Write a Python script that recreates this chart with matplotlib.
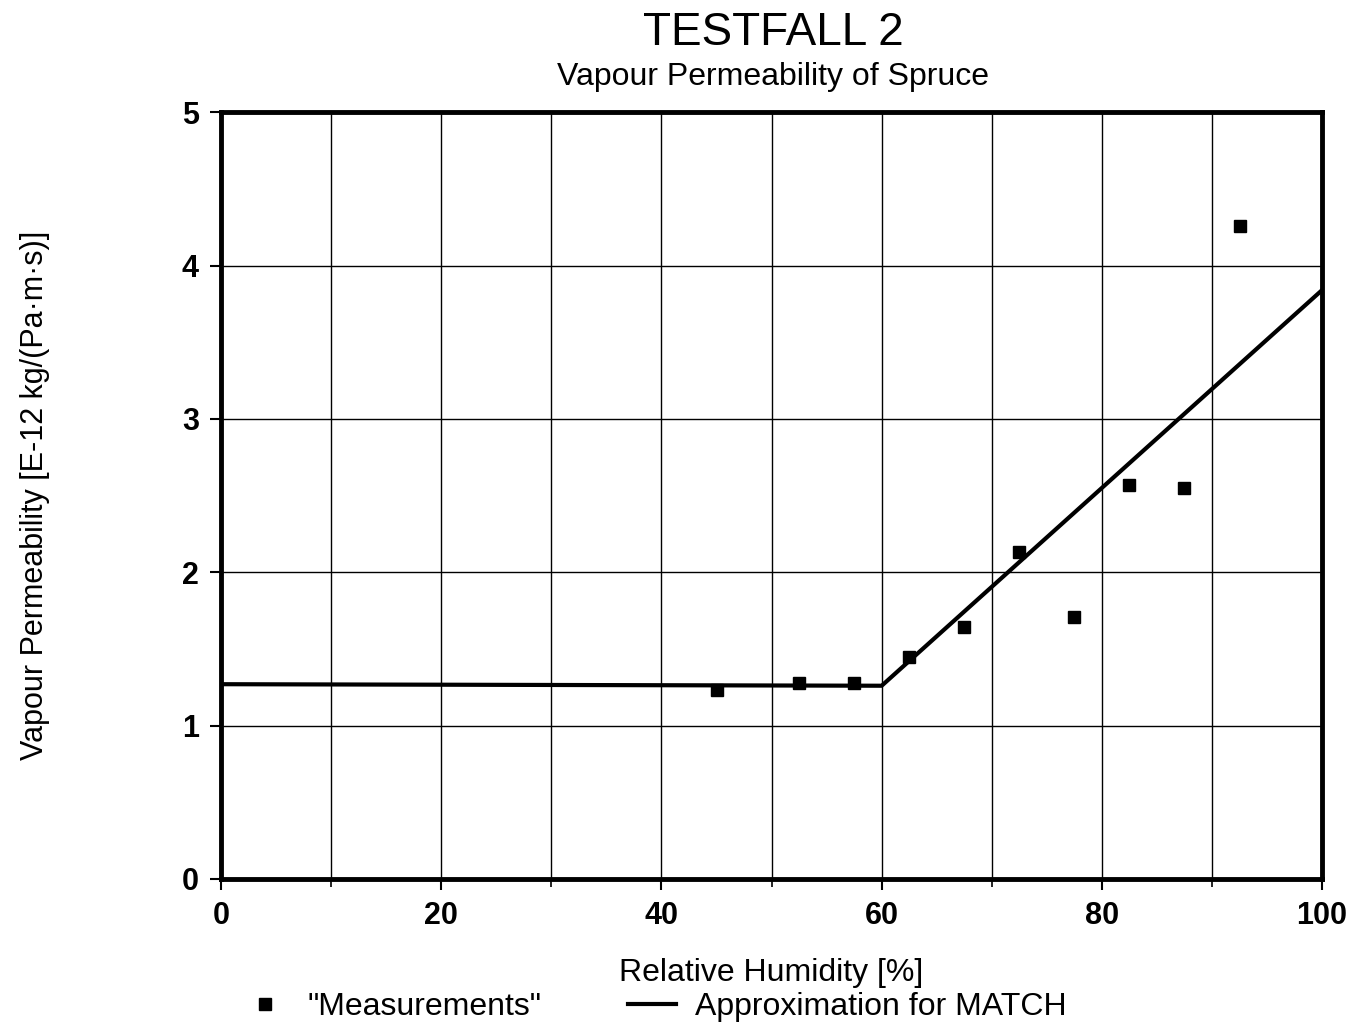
import matplotlib.pyplot as plt
import numpy as np

plt.rcParams['font.family'] = ['Liberation Sans', 'DejaVu Sans']

# measured points
rh_meas = [45, 52.5, 57.5, 62.5, 67.5, 72.5, 77.5, 82.5, 87.5, 92.5]
perm_meas = [1.23, 1.28, 1.28, 1.45, 1.64, 2.13, 1.71, 2.57, 2.55, 4.26]

# approximation used in MATCH
rh_fit = [0, 60, 100]
perm_fit = [1.27, 1.26, 3.84]

fig = plt.figure(figsize=(13.56, 10.29), dpi=100)
ax = fig.add_axes([0.163, 0.1458, 0.812, 0.7452])

ax.plot(rh_meas, perm_meas, 's', color='black', markersize=9, label='"Measurements"', zorder=3)
ax.plot(rh_fit, perm_fit, '-', color='black', linewidth=3, label='Approximation for MATCH', zorder=3)

ax.set_xlim(0, 100)
ax.set_ylim(0, 5)
ax.set_xticks(np.arange(0, 101, 20))
ax.set_xticks(np.arange(0, 101, 10), minor=True)
ax.set_yticks(np.arange(0, 6, 1))
ax.grid(True, which='both', color='black', linewidth=1.0)
ax.tick_params(axis='both', which='major', direction='out', length=8, width=1.5,
               labelsize=22, pad=8)
ax.tick_params(axis='x', which='minor', direction='out', length=6, width=1.2)
for lbl in ax.get_xticklabels() + ax.get_yticklabels():
    lbl.set_fontweight('bold')
for sp in ax.spines.values():
    sp.set_linewidth(3.5)

ax.set_xlabel('Relative Humidity [%]', fontsize=23, labelpad=19)
ax.set_ylabel('Vapour Permeability [E-12 kg/(Pa\u00b7m\u00b7s)]', fontsize=22, labelpad=95)

fig.text(0.57, 0.968, 'TESTFALL 2', ha='center', va='center', fontsize=33)
fig.text(0.57, 0.925, 'Vapour Permeability of Spruce', ha='center', va='center', fontsize=23)

ax.legend(loc='center', bbox_to_anchor=(0.393, -0.167), ncol=2, frameon=False,
          fontsize=23, handlelength=1.5, columnspacing=2.7, handletextpad=0.6,
          markerscale=0.9)

plt.savefig('out.png', dpi=100)
